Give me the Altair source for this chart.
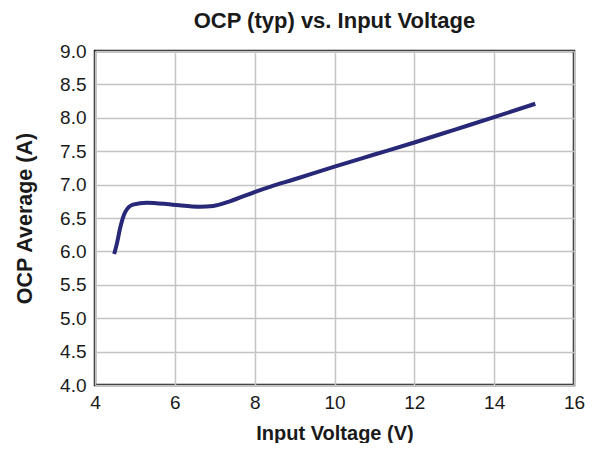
import altair as alt
import pandas as pd

voltage = [4.48, 4.55, 4.63, 4.75, 4.95, 5.3, 5.95, 6.63, 6.96, 7.38, 8.05, 8.4, 9.0, 10.0, 11.0, 12.0, 13.0, 14.0, 15.03]
ocp = [5.96, 6.12, 6.35, 6.58, 6.70, 6.73, 6.70, 6.67, 6.68, 6.75, 6.90, 6.97, 7.08, 7.27, 7.45, 7.63, 7.82, 8.01, 8.21]

df = pd.DataFrame({"v": voltage, "a": ocp})

font = "Liberation Sans"

chart = alt.Chart(df).mark_line(
    color="#272877", strokeWidth=4, interpolate="monotone", strokeCap="butt"
).encode(
    x=alt.X("v:Q", scale=alt.Scale(domain=[4, 16], nice=False, zero=False),
            axis=alt.Axis(values=[4, 6, 8, 10, 12, 14, 16], title="Input Voltage (V)",
                          labelPadding=8, titlePadding=11, labelFlush=False)),
    y=alt.Y("a:Q", scale=alt.Scale(domain=[4, 9], nice=False, zero=False),
            axis=alt.Axis(values=[4.0, 4.5, 5.0, 5.5, 6.0, 6.5, 7.0, 7.5, 8.0, 8.5, 9.0],
                          format=".1f", title="OCP Average (A)", labelPadding=9,
                          titlePadding=23, titleFontSize=21.5, labelFlush=False)),
).properties(
    width=479, height=334,
    autosize=alt.AutoSizeParams(type="none"),
    padding={"left": 87, "top": 43, "right": 13, "bottom": 58},
    title=alt.TitleParams("OCP (typ) vs. Input Voltage", fontSize=22, font=font,
                          fontWeight="bold", color="#1a1a1a", offset=9, anchor="middle"),
).configure_view(
    stroke="#1a1a1a", strokeWidth=2.5
).configure_axis(
    grid=True, gridColor="#c4c4c4", gridWidth=1.5, domain=False, ticks=False,
    labelFont=font, labelFontSize=19, labelColor="#1a1a1a",
    titleFont=font, titleFontSize=20, titleFontWeight="bold", titleColor="#1a1a1a",
)

chart.save("out.html", embed_options={"renderer": "svg", "actions": False})
